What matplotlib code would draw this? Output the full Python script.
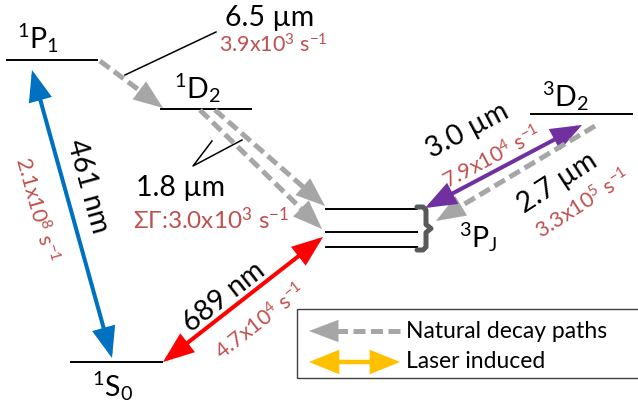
import numpy as np
import matplotlib
matplotlib.use("Agg")
import matplotlib.pyplot as plt
from matplotlib.patches import FancyArrowPatch, Rectangle

plt.rcParams['font.family'] = ['Lato', 'DejaVu Sans']
plt.rcParams['mathtext.fontset'] = 'custom'
plt.rcParams['mathtext.rm'] = 'Lato'
plt.rcParams['mathtext.it'] = 'Lato:italic'
plt.rcParams['mathtext.bf'] = 'Lato:bold'

# energy level segments of the schematic (pixel layout of the diagram)
level_x0 = [6, 160, 530, 325, 325, 325, 70]
level_x1 = [98, 252, 633, 418, 418, 418, 163]
level_y = [60, 109, 114, 209, 232, 247, 362]

# term symbols
term_labels = [r'$^1$P$_1$', r'$^1$D$_2$', r'$^3$D$_2$', r'$^3$P$_\mathrm{J}$', r'$^1$S$_0$']
term_x = [38, 198, 566, 478, 113]
term_y = [38, 88, 96, 237, 386]

# laser induced transitions (double headed)
laser_start = [(32, 70), (163, 362), (425, 208)]
laser_end = [(112, 358), (323, 237), (582, 125)]
laser_colors = ['#0070C0', '#FF0000', '#7030A0']
laser_wavelength = ['461 nm', '689 nm', '3.0 \u00b5m']
laser_rate = [r'2.1x10$^8$ s$^{-1}$', r'4.7x10$^4$ s$^{-1}$', r'7.9x10$^4$ s$^{-1}$']

# natural decay paths (dashed, arrow at the end)
decay_start = [(100, 61), (215, 110), (200, 110), (595, 126)]
decay_end = [(163, 108), (325, 206), (322, 229), (436, 221)]
decay_wavelength = ['2.7 \u00b5m']
decay_rate = [r'3.3x10$^5$ s$^{-1}$']

# callouts for the weak decays
callout_wavelength = ['6.5 \u00b5m', '1.8 \u00b5m']
callout_rate = [r'3.9x10$^3$ s$^{-1}$', r'$\Sigma\Gamma$:3.0x10$^3$ s$^{-1}$']

legend_labels = ['Natural decay paths', 'Laser induced']

GRAY = '#A6A6A6'
RATE = '#C0504D'
BIG = 20.5
SMALL = 15.5

fig = plt.figure(figsize=(6.38, 4.12), dpi=100)
ax = fig.add_axes([0, 0, 1, 1])
ax.set_xlim(0, 638)
ax.set_ylim(412, 0)
ax.axis('off')


def head(p0, p1, color, both=False, hl=1.7, hw=0.65, lw=2.9):
    style = '<|-|>' if both else '-|>'
    ax.add_patch(FancyArrowPatch(p0, p1,
                                 arrowstyle=f'{style},head_length={hl},head_width={hw}',
                                 mutation_scale=10, color=color, lw=lw,
                                 shrinkA=0, shrinkB=0, joinstyle='miter'))


def dashed_arrow(p0, p1, color=GRAY):
    p0 = np.array(p0, float)
    p1 = np.array(p1, float)
    u = (p1 - p0) / np.hypot(*(p1 - p0))
    base = p1 - u * 20
    ax.plot([p0[0], base[0]], [p0[1], base[1]], color=color, lw=3.6,
            linestyle=(0, (2.4, 1.1)), solid_capstyle='butt', dash_capstyle='butt')
    head(base - u * 2, p1, color, hl=2.1, hw=0.8, lw=0.1)


# levels
for x0, x1, y in zip(level_x0, level_x1, level_y):
    ax.plot([x0, x1], [y, y], color='black', lw=1.4, solid_capstyle='butt')

for lab, x, y in zip(term_labels, term_x, term_y):
    ax.text(x, y, lab, fontsize=BIG, ha='center', va='center')

# brace grouping the 3PJ fine structure levels
bx = max(level_x1[3:6])
top, bot = min(level_y[3:6]) - 2, max(level_y[3:6]) + 3
mid = (top + bot) / 2
brace_x = [bx - 1, bx + 5, bx + 8, bx + 8, bx + 13, bx + 8, bx + 8, bx + 5, bx - 1]
brace_y = [top, top, top + 3, mid - 4, mid, mid + 4, bot - 3, bot, bot]
ax.plot(brace_x, brace_y, color='#595959', lw=3.6, solid_joinstyle='round',
        solid_capstyle='round')

# decays
for p0, p1 in zip(decay_start, decay_end):
    dashed_arrow(p0, p1)

# lasers
for p0, p1, c in zip(laser_start, laser_end, laser_colors):
    head(p0, p1, c, both=True)

# transition labels
ax.text(88, 186, laser_wavelength[0], fontsize=BIG, rotation=-74.5, ha='center', va='center',
        rotation_mode='anchor')
ax.text(36, 210, laser_rate[0], fontsize=SMALL, rotation=-74.5, ha='center', va='center',
        color=RATE, rotation_mode='anchor')
ax.text(224, 297, laser_wavelength[1], fontsize=BIG, rotation=38, ha='center', va='center',
        rotation_mode='anchor')
ax.text(261, 322, laser_rate[1], fontsize=SMALL, rotation=38, ha='center', va='center',
        color=RATE, rotation_mode='anchor')
ax.text(467, 131, laser_wavelength[2], fontsize=BIG, rotation=28, ha='center', va='center',
        rotation_mode='anchor')
ax.text(492, 158, laser_rate[2], fontsize=SMALL, rotation=28, ha='center', va='center',
        color=RATE, rotation_mode='anchor')
ax.text(557, 183, decay_wavelength[0], fontsize=BIG, rotation=33, ha='center', va='center',
        rotation_mode='anchor')
ax.text(583, 204, decay_rate[0], fontsize=SMALL, rotation=33, ha='center', va='center',
        color=RATE, rotation_mode='anchor')

# callouts
ax.plot([125, 216], [75, 32], color='black', lw=1.1)
ax.text(270, 18, callout_wavelength[0], fontsize=BIG, ha='center', va='center')
ax.text(273, 45, callout_rate[0], fontsize=SMALL, ha='center', va='center', color=RATE)
ax.plot([242, 193, 212], [140, 166, 141], color='black', lw=1.1)
ax.text(181, 188, callout_wavelength[1], fontsize=BIG, ha='center', va='center')
ax.text(211, 220, callout_rate[1], fontsize=17.5, ha='center', va='center', color=RATE)

# legend
ax.add_patch(Rectangle((297, 309), 400, 69, facecolor='white', edgecolor='#404040', lw=1.0))
dashed_arrow((400, 331), (309, 331))
head((309, 362), (400, 362), '#FFC000', both=True, hl=1.6, hw=0.65, lw=3.2)
ax.text(406, 331, legend_labels[0], fontsize=16.5, ha='left', va='center')
ax.text(406, 362, legend_labels[1], fontsize=16.5, ha='left', va='center')

fig.savefig('out.png', dpi=100)
